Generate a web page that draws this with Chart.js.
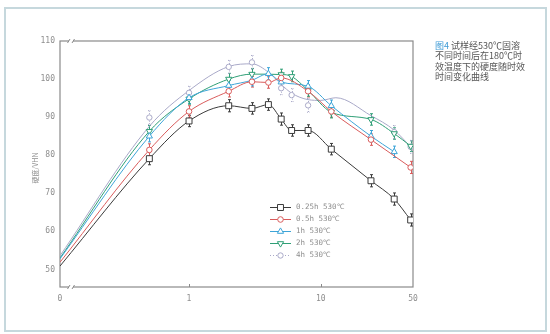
<!DOCTYPE html>
<html>
<head>
<meta charset="utf-8">
<script src="https://cdn.jsdelivr.net/npm/chart.js@4/dist/chart.umd.min.js"></script>
<style>
  html, body { margin: 0; padding: 0; background: #fff; }
  #wrap { position: relative; width: 550px; height: 334px; overflow: hidden; }
  #frame { position: absolute; left: 4px; top: 7px; width: 539px; height: 321px; border: 2px solid #c6d8dd; }
  #c { position: absolute; left: 0; top: 0; }
  #cap { position: absolute; left: 435px; top: 41px; font: 9px/10.3px "Noto Sans CJK SC", sans-serif; color: #555; white-space: nowrap; }
  #cap span { color: #3e9bd6; }
</style>
</head>
<body>
<div id="wrap">
  <div id="frame"></div>
  <canvas id="c" width="550" height="334"></canvas>
  <div id="cap"><span>图4</span> 试样经530℃固溶<br>不同时间后在180℃时<br>效温度下的硬度随时效<br>时间变化曲线</div>
</div>
<script>
// Ageing time (h) sits on a log axis; t = 0 is placed at the axis origin.
const T0 = 0.105;
const xMax = 50;
const yMin = 45.4;
const yMax = 110;
const xTickValues = [0, 1, 10, 50];
const yTickValues = [50, 60, 70, 80, 90, 100, 110];
const yTitle = '硬度/VHN';

const seriesNames = ['0.25h 530℃', '0.5h 530℃', '1h 530℃', '2h 530℃', '4h 530℃'];

// 0.25 h solution treatment
const hours025 = [0, 0.5, 1, 2, 3, 4, 5, 6, 8, 12, 24, 36, 48];
const hv025    = [50.9, 79.1, 89.0, 93.0, 92.3, 93.3, 89.5, 86.5, 86.5, 81.6, 73.3, 68.5, 63.0];
const err025   = [0, 1.6, 1.5, 1.6, 1.5, 1.5, 1.6, 1.5, 1.5, 1.5, 1.6, 1.6, 1.6];

// 0.5 h solution treatment
const hours05 = [0, 0.5, 1, 2, 3, 4, 5, 8, 12, 24, 48];
const hv05    = [51.9, 81.4, 91.5, 96.8, 99.3, 99.1, 100.3, 96.8, 91.5, 84.1, 76.8];
const err05   = [0, 1.6, 1.5, 1.5, 1.4, 1.5, 1.5, 1.5, 1.5, 1.5, 1.6];

// 1 h solution treatment
const hours1 = [0, 0.5, 1, 2, 3, 4, 5, 8, 12, 24, 36];
const hv1    = [52.8, 85.0, 95.1, 98.3, 99.7, 101.4, 99.2, 98.1, 93.0, 85.0, 80.9];
const err1   = [0, 1.5, 1.5, 1.4, 1.5, 1.6, 1.5, 1.5, 1.5, 1.5, 1.5];

// 2 h solution treatment
const hours2 = [0, 0.5, 1, 2, 3, 5, 6, 8, 12, 24, 36, 48];
const hv2    = [53.0, 86.3, 94.8, 100.0, 101.3, 101.2, 100.7, 97.0, 91.3, 89.4, 85.7, 82.4];
const err2   = [0, 1.5, 1.4, 1.5, 1.5, 1.4, 1.4, 1.5, 1.5, 1.5, 1.5, 1.4];

// 4 h solution treatment: measured points and fitted curve
const hours4 = [0.5, 1, 2, 3, 5, 6, 8, 36, 48];
const hv4    = [89.9, 96.4, 103.2, 104.4, 97.6, 95.8, 93.1, 86.1, 82.2];
const err4   = [1.8, 1.7, 1.7, 1.8, 1.7, 1.7, 1.8, 1.7, 1.7];
const hours4Fit = [0, 0.5, 1, 2, 3, 4, 5, 6, 8, 10, 13, 24, 36, 48];
const hv4Fit    = [53.6, 87.6, 97.0, 103.3, 104.0, 101.8, 98.6, 96.3, 94.6, 94.4, 95.1, 90.4, 86.6, 82.2];

const colors = ['#3b3b3b', '#d95c5c', '#3ea5d8', '#2f9f76', '#a9a9c8'];
const styles = [
  { pointStyle: 'rect', radius: 4.2, rotation: 0 },
  { pointStyle: 'circle', radius: 2.8, rotation: 0 },
  { pointStyle: 'triangle', radius: 3.6, rotation: 0 },
  { pointStyle: 'triangle', radius: 3.6, rotation: 180 },
  { pointStyle: 'circle', radius: 2.7, rotation: 0 }
];

const axisFont = { family: '"DejaVu Sans Mono", monospace', size: 8 };
const textGray = '#8e8e8e';

function toPoints(hours, values) {
  return hours.map((t, i) => ({ x: t === 0 ? T0 : t, y: values[i] }));
}

function seriesDataset(k, hours, values, errs) {
  return {
    label: seriesNames[k],
    data: toPoints(hours, values),
    errors: errs,
    borderColor: colors[k],
    backgroundColor: '#fff',
    borderWidth: 1,
    pointBorderColor: colors[k],
    pointBackgroundColor: '#fff',
    pointBorderWidth: 1,
    pointStyle: styles[k].pointStyle,
    pointRotation: styles[k].rotation,
    pointRadius: ctx => (ctx.raw && ctx.raw.x === T0 ? 0 : styles[k].radius),
    cubicInterpolationMode: 'monotone',
    fill: false
  };
}

const datasets = [
  seriesDataset(0, hours025, hv025, err025),
  seriesDataset(1, hours05, hv05, err05),
  seriesDataset(2, hours1, hv1, err1),
  seriesDataset(3, hours2, hv2, err2),
  Object.assign(seriesDataset(4, hours4, hv4, err4), { showLine: false, dottedErrors: true }),
  {
    label: seriesNames[4] + ' fit',
    data: toPoints(hours4Fit, hv4Fit),
    borderColor: colors[4],
    borderWidth: 1,
    pointRadius: 0,
    cubicInterpolationMode: 'monotone',
    fill: false
  }
];

function drawMarker(ctx, st, x, y, color) {
  const r = st.radius;
  ctx.save();
  ctx.fillStyle = '#fff';
  ctx.strokeStyle = color;
  ctx.lineWidth = 1;
  ctx.setLineDash([]);
  ctx.beginPath();
  if (st.pointStyle === 'rect') {
    const s = r * Math.SQRT1_2;
    ctx.rect(x - s, y - s, 2 * s, 2 * s);
  } else if (st.pointStyle === 'triangle') {
    const dir = st.rotation === 180 ? -1 : 1;
    const h = r * 1.5;
    ctx.moveTo(x, y - dir * r);
    ctx.lineTo(x - r * 0.866, y + dir * r * 0.5);
    ctx.lineTo(x + r * 0.866, y + dir * r * 0.5);
    ctx.closePath();
  } else {
    ctx.arc(x, y, r, 0, Math.PI * 2);
  }
  ctx.fill();
  ctx.stroke();
  ctx.restore();
}

// Plot box, axis breaks, inner ticks and the y title
const framePlugin = {
  id: 'plotFrame',
  beforeDatasetsDraw(chart) {
    const { ctx, chartArea: a, scales } = chart;
    ctx.save();
    ctx.strokeStyle = '#8a8a8a';
    ctx.lineWidth = 1.2;
    ctx.strokeRect(a.left, a.top, a.right - a.left, a.bottom - a.top);
    // inner ticks on the time axis
    ctx.lineWidth = 1;
    [1, 10].forEach(v => {
      const x = Math.round(scales.x.getPixelForValue(v)) + 0.5;
      ctx.beginPath();
      ctx.moveTo(x, a.bottom);
      ctx.lineTo(x, a.bottom - 3);
      ctx.stroke();
    });
    // axis break marks near the origin
    [a.top, a.bottom].forEach(y => {
      ctx.fillStyle = '#fff';
      ctx.fillRect(a.left + 9, y - 2, 4, 4);
      ctx.strokeStyle = '#8a8a8a';
      ctx.beginPath();
      ctx.moveTo(a.left + 7.5, y + 2);
      ctx.lineTo(a.left + 10, y - 2);
      ctx.moveTo(a.left + 12, y + 2);
      ctx.lineTo(a.left + 14.5, y - 2);
      ctx.stroke();
    });
    ctx.restore();
  },
  afterDraw(chart) {
    const { ctx } = chart;
    ctx.save();
    ctx.translate(35, 168);
    ctx.rotate(-Math.PI / 2);
    ctx.fillStyle = textGray;
    ctx.font = '7px "Noto Sans CJK SC", sans-serif';
    ctx.textAlign = 'center';
    ctx.textBaseline = 'middle';
    ctx.fillText(yTitle, 0, 0);
    ctx.restore();
  }
};

// Vertical error bars with small caps
const errorBarPlugin = {
  id: 'errorBars',
  beforeDatasetsDraw(chart) {
    const { ctx } = chart;
    const ys = chart.scales.y;
    chart.data.datasets.forEach((ds, di) => {
      if (!ds.errors) return;
      const meta = chart.getDatasetMeta(di);
      ctx.save();
      ctx.strokeStyle = ds.borderColor;
      ctx.lineWidth = 1;
      ctx.setLineDash(ds.dottedErrors ? [1, 1.5] : []);
      meta.data.forEach((pt, i) => {
        const e = ds.errors[i];
        if (!e) return;
        const v = ds.data[i].y;
        const x = Math.round(pt.x) + 0.5;
        const y1 = ys.getPixelForValue(v + e);
        const y2 = ys.getPixelForValue(v - e);
        ctx.beginPath();
        ctx.moveTo(x, y1);
        ctx.lineTo(x, y2);
        ctx.moveTo(x - 1.5, y1);
        ctx.lineTo(x + 1.5, y1);
        ctx.moveTo(x - 1.5, y2);
        ctx.lineTo(x + 1.5, y2);
        ctx.stroke();
      });
      ctx.restore();
    });
  }
};

// Legend inside the plot
const legendPlugin = {
  id: 'insideLegend',
  afterDraw(chart) {
    const { ctx } = chart;
    const x0 = 270, x1 = 291, tx = 296, y0 = 207, dy = 12;
    seriesNames.forEach((name, k) => {
      const y = y0 + k * dy + 0.5;
      ctx.save();
      ctx.strokeStyle = colors[k];
      ctx.lineWidth = 1;
      ctx.setLineDash(k === 4 ? [1, 2] : []);
      ctx.beginPath();
      ctx.moveTo(x0, y);
      ctx.lineTo(x1, y);
      ctx.stroke();
      ctx.restore();
      drawMarker(ctx, styles[k], (x0 + x1) / 2, y, colors[k]);
      ctx.save();
      ctx.fillStyle = textGray;
      ctx.font = '7.5px "DejaVu Sans Mono", monospace';
      ctx.textAlign = 'left';
      ctx.textBaseline = 'middle';
      ctx.fillText(name, tx, y);
      ctx.restore();
    });
  }
};

new Chart(document.getElementById('c'), {
  type: 'line',
  data: { datasets },
  options: {
    responsive: false,
    animation: false,
    events: [],
    layout: { padding: { top: 41, right: 137, bottom: 0, left: 0 } },
    plugins: { legend: { display: false }, tooltip: { enabled: false } },
    scales: {
      x: {
        type: 'logarithmic',
        min: T0,
        max: xMax,
        grid: { display: false, drawTicks: false },
        border: { display: false },
        afterBuildTicks: s => { s.ticks = xTickValues.map(v => ({ value: v === 0 ? T0 : v })); },
        afterFit: s => { s.height = 47; },
        ticks: {
          font: axisFont, color: textGray, padding: 7, autoSkip: false, maxRotation: 0,
          callback: v => (v === T0 ? '0' : String(v))
        }
      },
      y: {
        type: 'linear',
        min: yMin,
        max: yMax,
        grid: { display: false, drawTicks: false },
        border: { display: false },
        afterBuildTicks: s => { s.ticks = yTickValues.map(v => ({ value: v })); },
        afterFit: s => { s.width = 60; },
        ticks: { font: axisFont, color: textGray, padding: 5 }
      }
    }
  },
  plugins: [framePlugin, errorBarPlugin, legendPlugin]
});
</script>
</body>
</html>
